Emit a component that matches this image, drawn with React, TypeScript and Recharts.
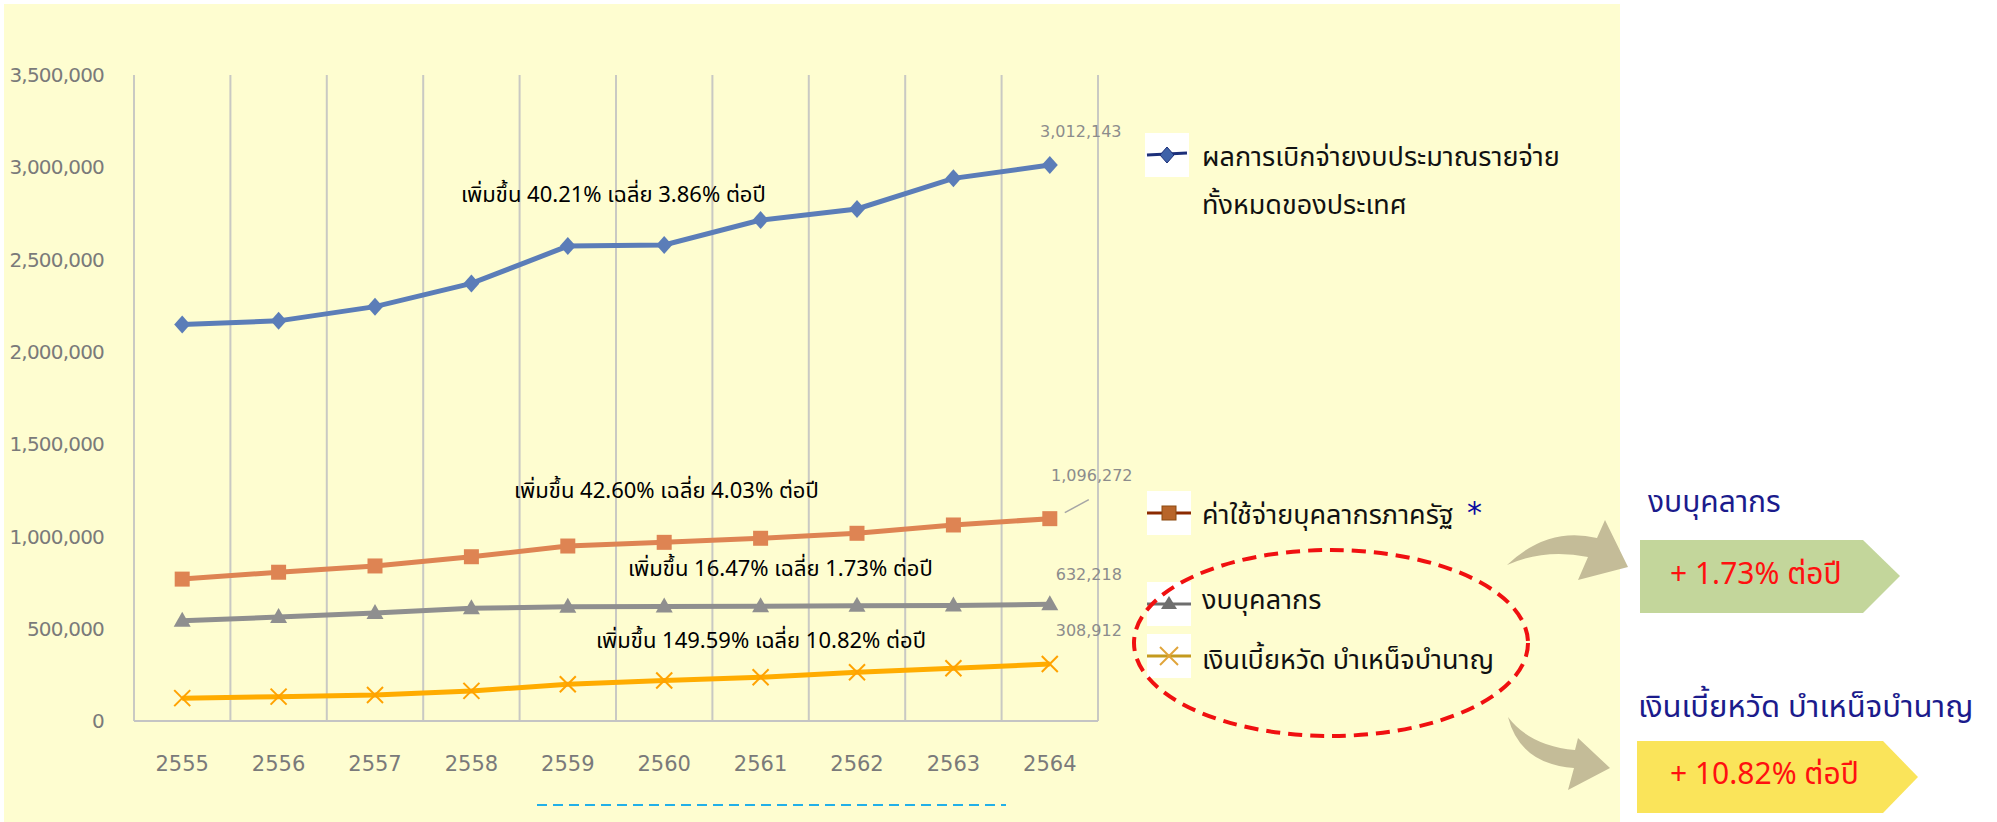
import { CartesianGrid, LabelList, Line, LineChart, XAxis, YAxis } from "recharts";

const YEARS = ["2555", "2556", "2557", "2558", "2559", "2560", "2561", "2562", "2563", "2564"];
// ผลการเบิกจ่ายงบประมาณรายจ่ายทั้งหมดของประเทศ
const TOTAL = [2148308, 2168000, 2245000, 2371000, 2573000, 2579000, 2714000, 2774000, 2940000, 3012143];
// ค่าใช้จ่ายบุคลากรภาครัฐ
const STATE_PERSONNEL = [768775, 806000, 840000, 890000, 948000, 968000, 990000, 1017000, 1062000, 1096272];
// งบบุคลากร
const PERSONNEL_BUDGET = [542815, 563000, 585000, 611000, 619000, 620000, 622000, 624000, 626000, 632218];
// เงินเบี้ยหวัด บำเหน็จบำนาญ
const PENSION = [123772, 132000, 141000, 163000, 199000, 219000, 237000, 264000, 286000, 308912];
const Y_TICKS = [0, 500000, 1000000, 1500000, 2000000, 2500000, 3000000, 3500000];

const rows = YEARS.map((year, i) => ({
  year,
  total: TOTAL[i],
  state: STATE_PERSONNEL[i],
  budget: PERSONNEL_BUDGET[i],
  pension: PENSION[i],
}));

const THAI = "Tahoma, 'Leelawadee UI', 'Noto Sans Thai', Loma, Garuda, 'DejaVu Sans', sans-serif";
const NUM = "'DejaVu Sans', Tahoma, sans-serif";
const fmt = (v: number) => v.toLocaleString("en-US");

const BLUE = "#5B7DB8";
const ORANGE = "#DE8453";
const GRAY = "#8F8F8F";
const GOLD = "#FFAC00";

function Diamond({ cx, cy, index }: any) {
  if (cx == null) return null;
  return <path key={index} d={`M${cx},${cy - 9}L${cx + 8},${cy}L${cx},${cy + 9}L${cx - 8},${cy}Z`} fill={BLUE} />;
}
function Square({ cx, cy, index }: any) {
  if (cx == null) return null;
  return <rect key={index} x={cx - 7.5} y={cy - 7.5} width={15} height={15} fill={ORANGE} />;
}
function Triangle({ cx, cy, index }: any) {
  if (cx == null) return null;
  return <path key={index} d={`M${cx},${cy - 9}L${cx + 8.5},${cy + 6}L${cx - 8.5},${cy + 6}Z`} fill={GRAY} />;
}
function Cross({ cx, cy, index }: any) {
  if (cx == null) return null;
  return (
    <g key={index} stroke="#FFA200" strokeWidth={2}>
      <line x1={cx - 8} y1={cy - 8} x2={cx + 8} y2={cy + 8} />
      <line x1={cx - 8} y1={cy + 8} x2={cx + 8} y2={cy - 8} />
    </g>
  );
}

function endLabel(series: number[], dx: number, dy: number, leader = false) {
  const last = series[series.length - 1];
  return (props: any) => {
    const { x, y, value } = props;
    if (value !== last) return null;
    return (
      <g>
        {leader && <line x1={x + 15} y1={y - 6} x2={x + 39} y2={y - 19} stroke="#A6A6A6" strokeWidth={1.5} />}
        <text x={x + dx} y={y + dy} textAnchor="middle" dominantBaseline="central" fontSize={16} fill="#8C8C8C" fontFamily={NUM}>
          {fmt(value)}
        </text>
      </g>
    );
  };
}

function LegendIcon({ x, y, kind }: { x: number; y: number; kind: string }) {
  const cx = x + 22;
  const cy = y + 22;
  return (
    <g>
      <rect x={x} y={y} width={44} height={44} fill="#FFFFFF" />
      {kind === "total" && (
        <>
          <line x1={x + 2} y1={cy} x2={x + 42} y2={cy - 2} stroke="#1C2F7A" strokeWidth={3} />
          <path d={`M${cx},${cy - 8}L${cx + 7},${cy}L${cx},${cy + 8}L${cx - 7},${cy}Z`} fill="#3F62A8" stroke="#1C2F7A" />
        </>
      )}
      {kind === "state" && (
        <>
          <line x1={x} y1={cy} x2={x + 44} y2={cy} stroke="#8B2A00" strokeWidth={3} />
          <rect x={cx - 7} y={cy - 7} width={14} height={14} fill="#B8652A" stroke="#8B4A10" />
        </>
      )}
      {kind === "budget" && (
        <>
          <line x1={x} y1={cy} x2={x + 44} y2={cy} stroke="#6E6E6E" strokeWidth={3} />
          <path d={`M${cx},${cy - 8}L${cx + 8},${cy + 5}L${cx - 8},${cy + 5}Z`} fill="#6E6E6E" />
        </>
      )}
      {kind === "pension" && (
        <>
          <line x1={x} y1={cy} x2={x + 44} y2={cy} stroke="#C49A1E" strokeWidth={3} />
          <g stroke="#E0A43A" strokeWidth={2}>
            <line x1={cx - 9} y1={cy - 9} x2={cx + 9} y2={cy + 9} />
            <line x1={cx - 9} y1={cy + 9} x2={cx + 9} y2={cy - 9} />
          </g>
        </>
      )}
    </g>
  );
}

export default function App() {
  return (
    <div style={{ position: "absolute", left: 0, top: 0, width: 1997, height: 822, background: "#FFFFFF", overflow: "hidden" }}>
      <div style={{ position: "absolute", left: 4, top: 4, width: 1616, height: 818, background: "#FEFDD0" }} />
      <div style={{ position: "absolute", left: 0, top: 0 }}>
        <LineChart width={1140} height={822} data={rows} margin={{ top: 75, right: 42, bottom: 0, left: 0 }}>
          <CartesianGrid
            horizontal={false}
            stroke="#C9C9C3"
            strokeWidth={2}
            verticalCoordinatesGenerator={({ offset }: any) =>
              Array.from({ length: YEARS.length + 1 }, (_, i) => offset.left + (i * offset.width) / YEARS.length)
            }
          />
          <XAxis
            dataKey="year"
            scale="band"
            height={101}
            tickLine={false}
            tickSize={0}
            tickMargin={35}
            axisLine={{ stroke: "#C4C4C4", strokeWidth: 2 }}
            tick={{ fontSize: 21, fill: "#7A7A7A", fontFamily: NUM }}
          />
          <YAxis
            width={134}
            domain={[0, 3500000]}
            ticks={Y_TICKS}
            tickFormatter={fmt}
            axisLine={false}
            tickLine={false}
            tickSize={0}
            tickMargin={30}
            tick={{ fontSize: 20, fill: "#7A7A7A", fontFamily: NUM, letterSpacing: -0.8 }}
          />
          <Line dataKey="total" stroke={BLUE} strokeWidth={5} dot={Diamond} activeDot={false} isAnimationActive={false}>
            <LabelList dataKey="total" content={endLabel(TOTAL, 31, -34)} />
          </Line>
          <Line dataKey="state" stroke={ORANGE} strokeWidth={5} dot={Square} activeDot={false} isAnimationActive={false}>
            <LabelList dataKey="state" content={endLabel(STATE_PERSONNEL, 42, -43, true)} />
          </Line>
          <Line dataKey="budget" stroke={GRAY} strokeWidth={5} dot={Triangle} activeDot={false} isAnimationActive={false}>
            <LabelList dataKey="budget" content={endLabel(PERSONNEL_BUDGET, 39, -30)} />
          </Line>
          <Line dataKey="pension" stroke={GOLD} strokeWidth={5} dot={Cross} activeDot={false} isAnimationActive={false}>
            <LabelList dataKey="pension" content={endLabel(PENSION, 39, -33)} />
          </Line>
        </LineChart>
      </div>
      <svg width={1997} height={822} style={{ position: "absolute", left: 0, top: 0, pointerEvents: "none" }}>
        <g fontFamily={THAI} fontSize={22} fill="#000000">
          <text x={461} y={195} dominantBaseline="central">เพิ่มขึ้น 40.21% เฉลี่ย 3.86% ต่อปี</text>
          <text x={514} y={491} dominantBaseline="central">เพิ่มขึ้น 42.60% เฉลี่ย 4.03% ต่อปี</text>
          <text x={628} y={569} dominantBaseline="central">เพิ่มขึ้น 16.47% เฉลี่ย 1.73% ต่อปี</text>
          <text x={596} y={641} dominantBaseline="central">เพิ่มขึ้น 149.59% เฉลี่ย 10.82% ต่อปี</text>
        </g>
        <line x1={537} y1={805} x2={1006} y2={805} stroke="#22B0E8" strokeWidth={2} strokeDasharray="10 6" />

        <LegendIcon x={1145} y={133} kind="total" />
        <LegendIcon x={1147} y={491} kind="state" />
        <LegendIcon x={1147} y={582} kind="budget" />
        <LegendIcon x={1147} y={634} kind="pension" />
        <g fontFamily={THAI} fontSize={27} fill="#111111">
          <text x={1202} y={157} dominantBaseline="central">ผลการเบิกจ่ายงบประมาณรายจ่าย</text>
          <text x={1202} y={205} dominantBaseline="central">ทั้งหมดของประเทศ</text>
          <text x={1202} y={515} dominantBaseline="central">ค่าใช้จ่ายบุคลากรภาครัฐ</text>
          <text x={1202} y={600} dominantBaseline="central">งบบุคลากร</text>
          <text x={1202} y={660} dominantBaseline="central">เงินเบี้ยหวัด บำเหน็จบำนาญ</text>
        </g>
        <text x={1467} y={512} fontSize={30} fill="#0A0AA0" fontFamily={NUM} dominantBaseline="central">*</text>
        <ellipse cx={1331} cy={643} rx={197} ry={93} fill="none" stroke="#F01010" strokeWidth={4} strokeDasharray="14 8" />

        <path d="M1507,565 Q1548,526 1597,538 L1605,520 L1628,567 L1578,580 L1588,557 Q1545,548 1507,565 Z" fill="#C4BC98" />
        <path d="M1508,717 Q1520,764 1574,768 L1568,790 L1610,768 L1578,738 L1575,750 Q1530,746 1508,717 Z" fill="#C4BC98" />

        <path d="M1640,540 L1863,540 L1900,576 L1863,613 L1640,613 Z" fill="#C3D69B" />
        <path d="M1637,741 L1883,741 L1918,777 L1883,813 L1637,813 Z" fill="#FAE45A" />
        <g fontFamily={THAI} fill="#1B1B8C">
          <text x={1648} y={503} fontSize={30} dominantBaseline="central">งบบุคลากร</text>
          <text x={1638} y={707} fontSize={31} dominantBaseline="central">เงินเบี้ยหวัด บำเหน็จบำนาญ</text>
        </g>
        <g fontFamily={THAI} fontSize={30} fill="#FF1010">
          <text x={1670} y={575} dominantBaseline="central">+ 1.73% ต่อปี</text>
          <text x={1670} y={775} dominantBaseline="central">+ 10.82% ต่อปี</text>
        </g>
      </svg>
    </div>
  );
}
